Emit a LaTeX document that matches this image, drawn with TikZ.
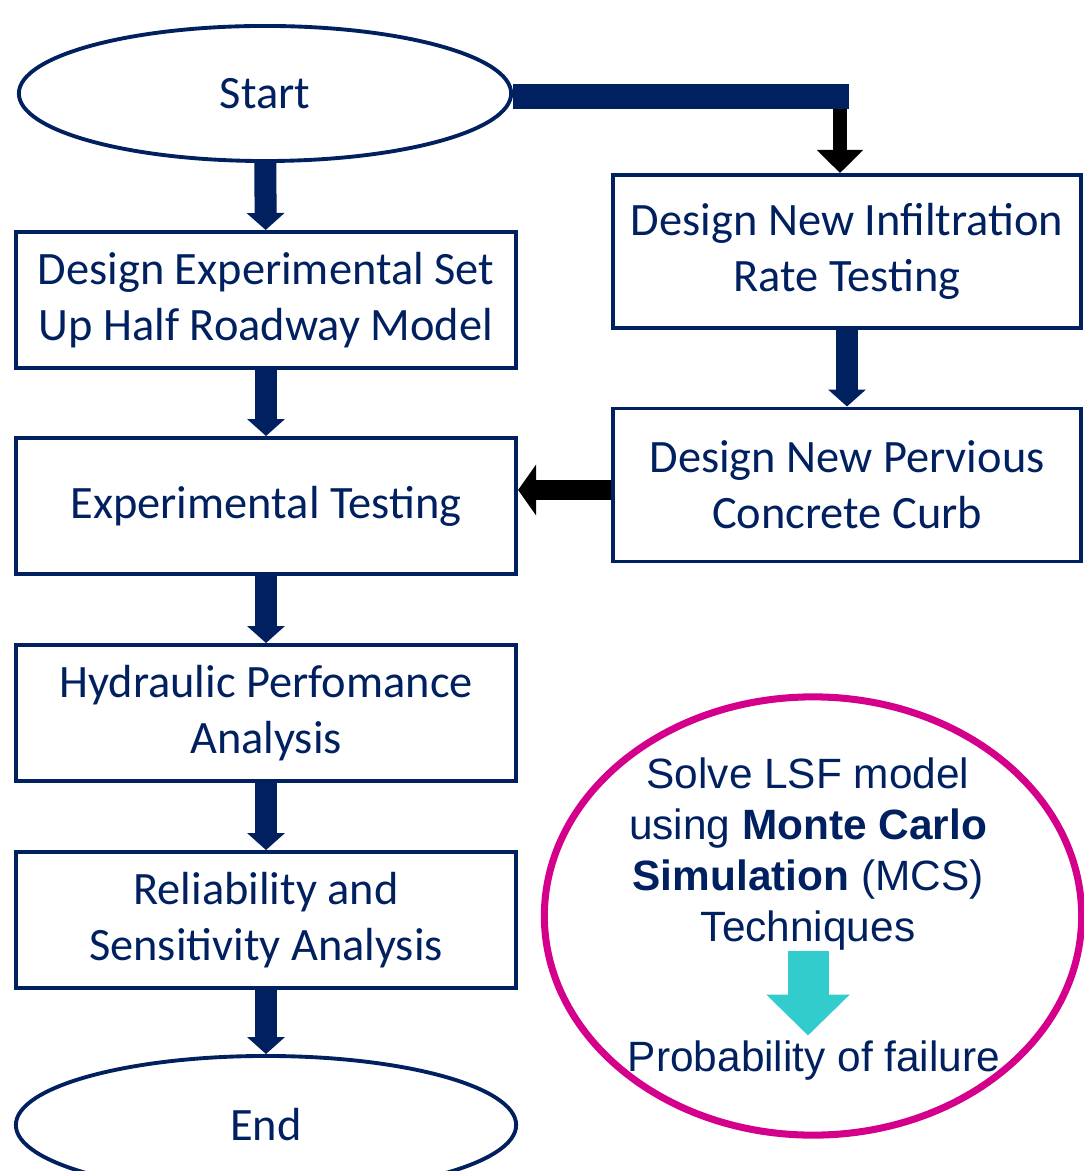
\documentclass[tikz,border=0pt]{standalone}
\usepackage{fontspec}
\setmainfont{Carlito}
\newfontfamily\arialfont{Liberation Sans}
\usetikzlibrary{shapes.geometric,arrows.meta}
\definecolor{navy}{RGB}{0,32,96}
\definecolor{pinkline}{RGB}{212,0,140}
\definecolor{turq}{RGB}{51,204,204}
\begin{document}
\begin{tikzpicture}[x=0.01cm,y=-0.01cm]
\tikzstyle{stage} = [draw=navy,line width=1.1pt,text=navy,minimum width=5cm,minimum height=1.36cm,inner sep=0pt,align=center,font=\fontsize{13.2}{15.9}\selectfont];
\tikzstyle{sidestage} = [stage,minimum width=4.68cm,minimum height=1.53cm];
\tikzstyle{terminal} = [stage,ellipse];
\tikzstyle{flow} = [draw=navy,line width=2.2mm,-{Triangle[width=3.7mm,length=1.7mm]}];
\tikzstyle{darkflow} = [draw=black,line width=2mm,-{Triangle[width=5mm,length=1.8mm]}];
\tikzstyle{mcstext} = [text=navy,inner sep=0pt,align=center,font=\arialfont\fontsize{12.05}{14.5}\selectfont];
\useasboundingbox (0,0) rectangle (1083,1171);

\node [terminal,minimum width=4.92cm,minimum height=1.35cm] (start) at (265,93.5) {Start};
\node [stage] (design) at (266,300) {Design Experimental Set\\Up Half Roadway Model};
\node [stage] (testing) at (266,506) {Experimental Testing};
\node [stage] (hydraulic) at (266,713) {Hydraulic Perfomance\\Analysis};
\node [stage] (reliability) at (266,920) {Reliability and\\Sensitivity Analysis};
\node [terminal,minimum width=5cm,minimum height=1.38cm] (end) at (266,1125) {End};

\node [sidestage] (infil) at (847,251.5) {Design New Infiltration\\Rate Testing};
\node [sidestage] (pervious) at (847,485) {Design New Pervious\\Concrete Curb};

\draw [flow] (start) -- (design);
\draw [flow] (design) -- (testing);
\draw [flow] (testing) -- (hydraulic);
\draw [flow] (hydraulic) -- (reliability);
\draw [flow] (reliability) -- (end);
\draw [flow] (infil) -- (pervious);

\coordinate (bend) at (849,96.5);
\coordinate (drop) at (840,109);
\draw [navy,line width=2.5mm] (start.east |- bend) -- (bend);
\draw [darkflow,line width=1.4mm,-{Triangle[width=4.5mm,length=2.3mm]}] (drop) -- (drop |- infil.north);
\coordinate (lvl) at (0,490);
\draw [darkflow] (pervious.west |- lvl) -- (testing.east |- lvl);

\node [ellipse,draw=pinkline,line width=2pt,minimum width=5.37cm,minimum height=4.38cm] (lsf) at (813,916) {};
\node [mcstext] (mcs) at (808,854) {Solve LSF model\\using \textbf{Monte Carlo}\\\textbf{Simulation} (MCS)\\Techniques};
\node [mcstext] (pof) at (814,1061) {Probability of failure};
\draw [turq,line width=4.1mm,-{Triangle[width=8.1mm,length=4.1mm]},shorten >=0.05cm] (mcs.south) -- (mcs.south |- pof.north);
\end{tikzpicture}
\end{document}
